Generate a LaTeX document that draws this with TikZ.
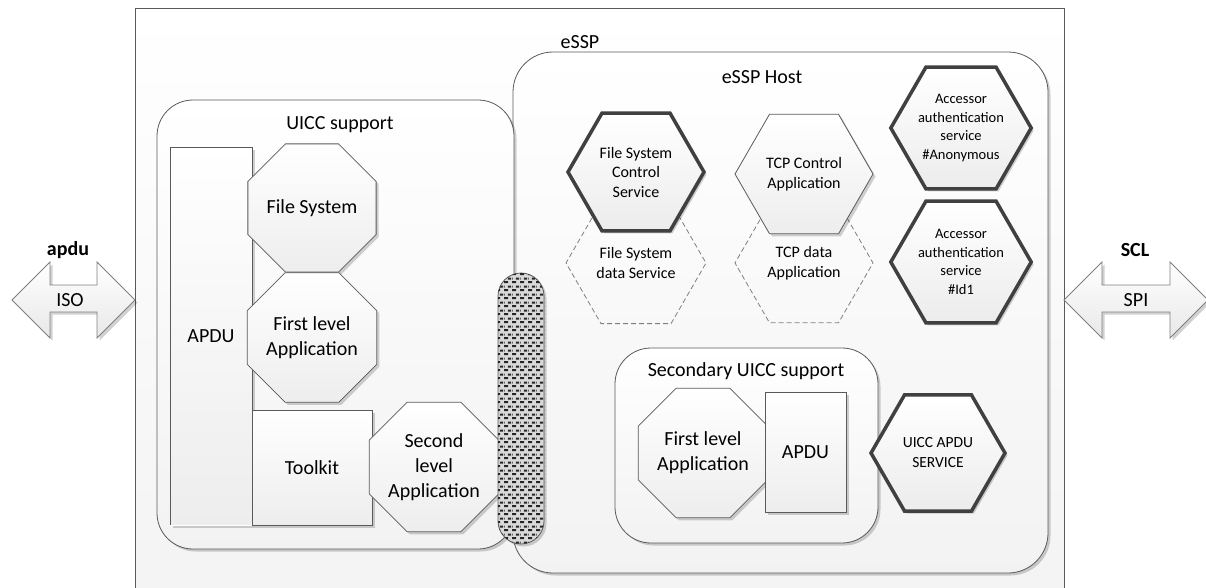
\documentclass[tikz,border=0pt]{standalone}
\usepackage{fontspec}
\setmainfont{Carlito}
\usetikzlibrary{shapes.geometric,shadows,patterns}
\definecolor{linegray}{HTML}{5A5A5A}
\definecolor{thickgray}{HTML}{404040}
\definecolor{dashgray}{HTML}{7F7F7F}
\pgfdeclarepatternformonly{brickdash}{\pgfqpoint{0pt}{0pt}}{\pgfqpoint{8pt}{8pt}}{\pgfqpoint{8pt}{8pt}}{%
  \pgfsetlinewidth{2.3pt}%
  \pgfpathmoveto{\pgfqpoint{0.2pt}{2pt}}\pgfpathlineto{\pgfqpoint{4.6pt}{2pt}}%
  \pgfpathmoveto{\pgfqpoint{4.2pt}{6pt}}\pgfpathlineto{\pgfqpoint{8.0pt}{6pt}}%
  \pgfpathmoveto{\pgfqpoint{0pt}{6pt}}\pgfpathlineto{\pgfqpoint{0.6pt}{6pt}}%
  \pgfusepath{stroke}}
\tikzset{
  big/.style={font=\fontsize{20}{25}\selectfont},
  mid/.style={font=\fontsize{16}{19.5}\selectfont},
  small/.style={font=\fontsize{14.5}{18.5}\selectfont},
  shade/.style={top color=white, bottom color=gray!14},
  shadowed/.style={drop shadow={shadow xshift=2.5pt, shadow yshift=-2.5pt, opacity=.18, fill=black}},
  container/.style={draw=linegray, line width=0.8pt, top color=white, bottom color=gray!10},
  rectbox/.style={draw=linegray, line width=0.8pt, shade, shadowed, big, align=center, inner sep=0pt},
  octo/.style={regular polygon, regular polygon sides=8, draw=linegray, line width=0.8pt, shade, shadowed, big, align=center, inner sep=0pt},
  hexthin/.style={regular polygon, regular polygon sides=6, draw=linegray, line width=0.8pt, shade, shadowed, mid, align=center, inner sep=0pt},
  hexthick/.style={regular polygon, regular polygon sides=6, draw=thickgray, line width=3.5pt, top color=white, bottom color=gray!15, shadowed, align=center, inner sep=0pt},
  hexdash/.style={regular polygon, regular polygon sides=6, draw=dashgray, line width=0.8pt, dashed, dash pattern=on 5pt off 3pt, mid, align=center, inner sep=0pt},
  dblarrow/.style={draw=dashgray, line width=0.8pt, top color=white, bottom color=gray!18, shadowed},
  title/.style={big, inner sep=0pt}
}
\begin{document}
\begin{tikzpicture}[x=1pt, y=-1pt]
\useasboundingbox (0,0) rectangle (1206,587);
% outer frame
\fill[top color=white, bottom color=gray!9] (135,8) rectangle (1064,590);
\draw[linegray, line width=0.8pt] (135,590) -- (135,8) -- (1064,8) -- (1064,590);
\node[title] (essp) at (580,42) {eSSP};

% eSSP Host container
\draw[container, rounded corners=40pt, shadowed] (513,52) rectangle (1048,573);
\node[title] (host) at (762,77) {eSSP Host};

% UICC support container
\draw[container, rounded corners=36pt, shadowed] (157,100) rectangle (514,549);
\node[title] (uicc) at (340,125) {UICC support};

% UICC support contents
\node[rectbox, minimum width=82pt, minimum height=378pt] (apdu) at (211,336) {APDU};
\draw[white, line width=1.6pt] (apdu.south west) -- (apdu.south east);
\node[octo, minimum size=130pt] (fs) at (312,208) {File System};
\node[octo, minimum size=130pt] (fla) at (312,337.5) {First level\\Application};
\node[rectbox, minimum width=120pt, minimum height=115pt] (toolkit) at (312,467.5) {Toolkit};
\node[octo, minimum size=132pt] (sla) at (434,467) {Second\\level\\Application};

% eSSP Host contents
\node[hexdash, minimum size=140pt] (fsd) at (636,263) {File System\\data Service};
\node[hexdash, minimum size=138pt] (tcpd) at (804,263) {TCP data\\Application};
\node[hexthick, mid, minimum size=136pt] (fsc) at (636,172) {File System\\Control\\Service};
\node[hexthin, minimum size=138pt] (tcpc) at (804,174) {TCP Control\\Application};
\node[hexthick, small, minimum size=138pt] (acc1) at (961,128) {Accessor\\authentication\\service\\\#Anonymous};
\node[hexthick, small, minimum size=138pt] (acc2) at (961,262) {Accessor\\authentication\\service\\\#Id1};

% Secondary UICC support
\draw[container, rounded corners=36pt, shadowed] (615,348) rectangle (878,543);
\node[title] (suicc) at (746,371) {Secondary UICC support};
\node[octo, minimum size=130pt] (sfla) at (703,453) {First level\\Application};
\node[rectbox, minimum width=81pt, minimum height=120pt] (sapdu) at (805.5,452) {APDU};
\node[hexthick, font=\fontsize{15.5}{20}\selectfont, minimum size=134pt] (uapdu) at (938,453) {UICC APDU\\SERVICE};

% hatched pill (interface)
\node[draw=linegray, line width=0.8pt, fill=gray!30, rounded corners=23pt, minimum width=46pt, minimum height=271pt, inner sep=0pt, shadowed, postaction={pattern=brickdash, pattern color=black!85}] (pill) at (521,408.5) {};

% double arrows
\draw[dblarrow] (12,300) -- (50,262) -- (50,285) -- (97,285) -- (97,262) -- (135,300) -- (97,338) -- (97,312) -- (50,312) -- (50,338) -- cycle;
\node[big] (iso) at (70,300) {ISO};
\node[big, font=\fontsize{20}{25}\selectfont\bfseries] (apdulbl) at (68,250) {apdu};
\draw[dblarrow] (1064,300) -- (1102,262) -- (1102,285) -- (1170,285) -- (1170,262) -- (1208,300) -- (1170,338) -- (1170,312) -- (1102,312) -- (1102,338) -- cycle;
\node[big] (spi) at (1136,300) {SPI};
\node[big, font=\fontsize{20}{25}\selectfont\bfseries] (scl) at (1135,250) {SCL};
\end{tikzpicture}
\end{document}
